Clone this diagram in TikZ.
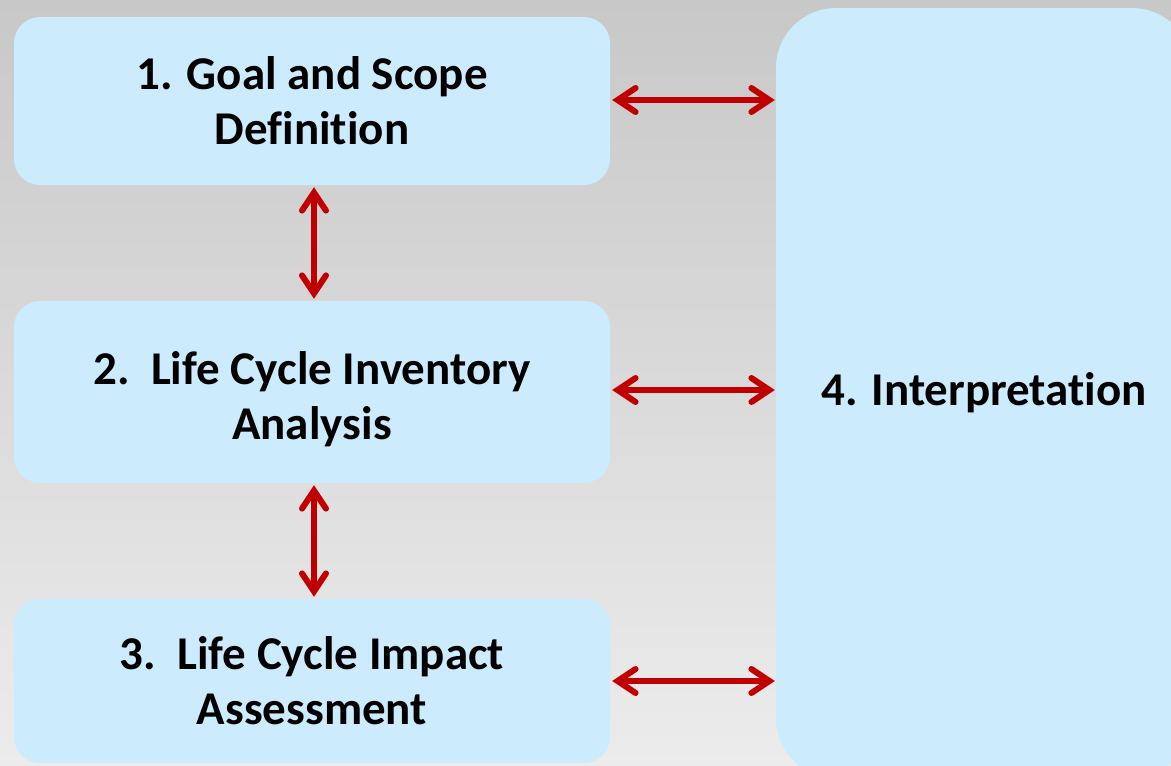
\documentclass[tikz,border=0pt]{standalone}
\usepackage{fontspec}
\setmainfont{Carlito}[Ligatures=NoCommon]
\usetikzlibrary{positioning, arrows.meta}
\definecolor{boxblue}{RGB}{204,235,253}
\definecolor{arrowred}{RGB}{192,0,0}
\definecolor{bgtop}{RGB}{200,200,200}
\definecolor{bgbottom}{RGB}{236,236,236}

\begin{document}
\begin{tikzpicture}[x=1pt, y=-1pt,
phase/.style={rectangle, rounded corners=26pt, fill=boxblue,
minimum width=596pt, align=center, font=\fontsize{47}{55}\selectfont\bfseries},
arrow/.style={{Straight Barb[length=18pt, width=24pt, line cap=round]}-{Straight Barb[length=18pt, width=24pt, line cap=round]},
line width=6pt, draw=arrowred}
]

% Background
\useasboundingbox (0,0) rectangle (1171,766);
\clip (0,0) rectangle (1171,766);
\shade[top color=bgtop, bottom color=bgbottom] (0,0) rectangle (1171,766);

% Goal and scope
\node[phase, minimum height=168pt] (goal) at (312,101)
{1. Goal and Scope\\Definition};

% Inventory
\node[phase, minimum height=182pt] (lci) at (312,392)
{\rule{0pt}{47pt}2.\ \ Life Cycle Inventory\\Analysis};

% Impact assessment
\node[phase, minimum height=164pt] (lcia) at (312,681)
{3.\ \ Life Cycle Impact\\Assessment};

% Interpretation
\node[phase, rounded corners=60pt, minimum width=416pt, minimum height=770pt] (interp) at (984,393)
{4. Interpretation};

% Arrows
\draw[arrow] ([xshift=2pt]goal.east |- 0,100) -- ([xshift=-1pt]interp.west |- 0,100);
\draw[arrow] ([xshift=2pt]lci.east |- 0,390) -- ([xshift=-1pt]interp.west |- 0,390);
\draw[arrow] ([xshift=2pt]lcia.east |- 0,681) -- ([xshift=-1pt]interp.west |- 0,681);
\draw[arrow] ([shift={(2pt,-2pt)}]goal.south) -- ([shift={(2pt,2pt)}]lci.north);
\draw[arrow] ([shift={(2pt,-2pt)}]lci.south) -- ([shift={(2pt,2pt)}]lcia.north);

\end{tikzpicture}
\end{document}
